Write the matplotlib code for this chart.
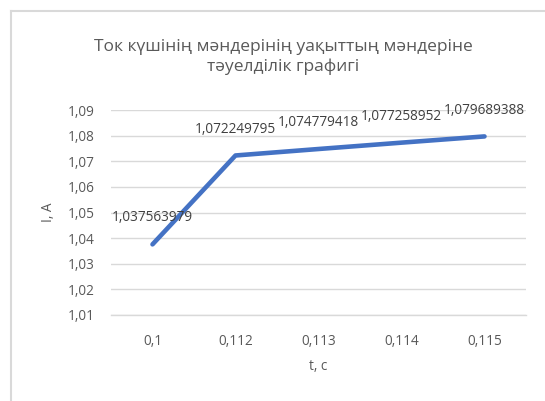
import matplotlib
matplotlib.use("Agg")
import matplotlib.pyplot as plt
from matplotlib.lines import Line2D

plt.rcParams["font.family"] = ["Open Sans", "DejaVu Sans"]

# data
t_labels = ["0,1", "0,112", "0,113", "0,114", "0,115"]
current = [1.037563979, 1.072249795, 1.074779418, 1.077258952, 1.079689388]
y_ticks = [1.01, 1.02, 1.03, 1.04, 1.05, 1.06, 1.07, 1.08, 1.09]

title = "Ток күшінің мәндерінің уақыттың мәндеріне\nтәуелділік графигі"

fig = plt.figure(figsize=(5.45, 4.01), dpi=100)
ax = fig.add_axes([111 / 545, 1 - 315 / 401, 415 / 545, 205 / 401])

x = list(range(len(current)))
ax.plot(x, current, color="#4472C4", linewidth=3.3, solid_capstyle="round",
        solid_joinstyle="round", zorder=3)

for xi, yi in zip(x, current):
    ax.annotate(f"{yi:.9f}".replace(".", ","), (xi, yi), xytext=(0, 19),
                textcoords="offset points", ha="center", va="center",
                fontsize=9.8, color="#404040")

ax.set_xlim(-0.5, len(current) - 0.5)
ax.set_ylim(1.01, 1.09)
ax.set_xticks(x)
ax.set_xticklabels(t_labels)
ax.set_yticks(y_ticks)
ax.set_yticklabels([f"{v:.2f}".replace(".", ",") for v in y_ticks])
ax.tick_params(length=0, labelsize=9.8, labelcolor="#595959")
ax.tick_params(axis="y", pad=12)
ax.tick_params(axis="x", pad=14)
ax.grid(axis="y", color="#D9D9D9", linewidth=1)
ax.set_axisbelow(True)
for side in ["left", "right", "top"]:
    ax.spines[side].set_visible(False)
ax.spines["bottom"].set_color("#D9D9D9")
ax.spines["bottom"].set_linewidth(1)

ax.set_xlabel("t, c", fontsize=9.8, color="#595959", labelpad=7)
ax.set_ylabel("I, A", fontsize=9.8, color="#595959", labelpad=8)

fig.text(283 / 545, 1 - 57 / 401, title, ha="center", va="center",
         fontsize=12.5, color="#595959", linespacing=1.25)

# chart frame (cropped at right and bottom)
fig.add_artist(Line2D([11 / 545, 11 / 545], [0, 1 - 11 / 401],
                      transform=fig.transFigure, color="#D9D9D9", linewidth=1.5))
fig.add_artist(Line2D([11 / 545, 1], [1 - 11 / 401, 1 - 11 / 401],
                      transform=fig.transFigure, color="#D9D9D9", linewidth=1.5))

fig.savefig("out.png", dpi=100)
